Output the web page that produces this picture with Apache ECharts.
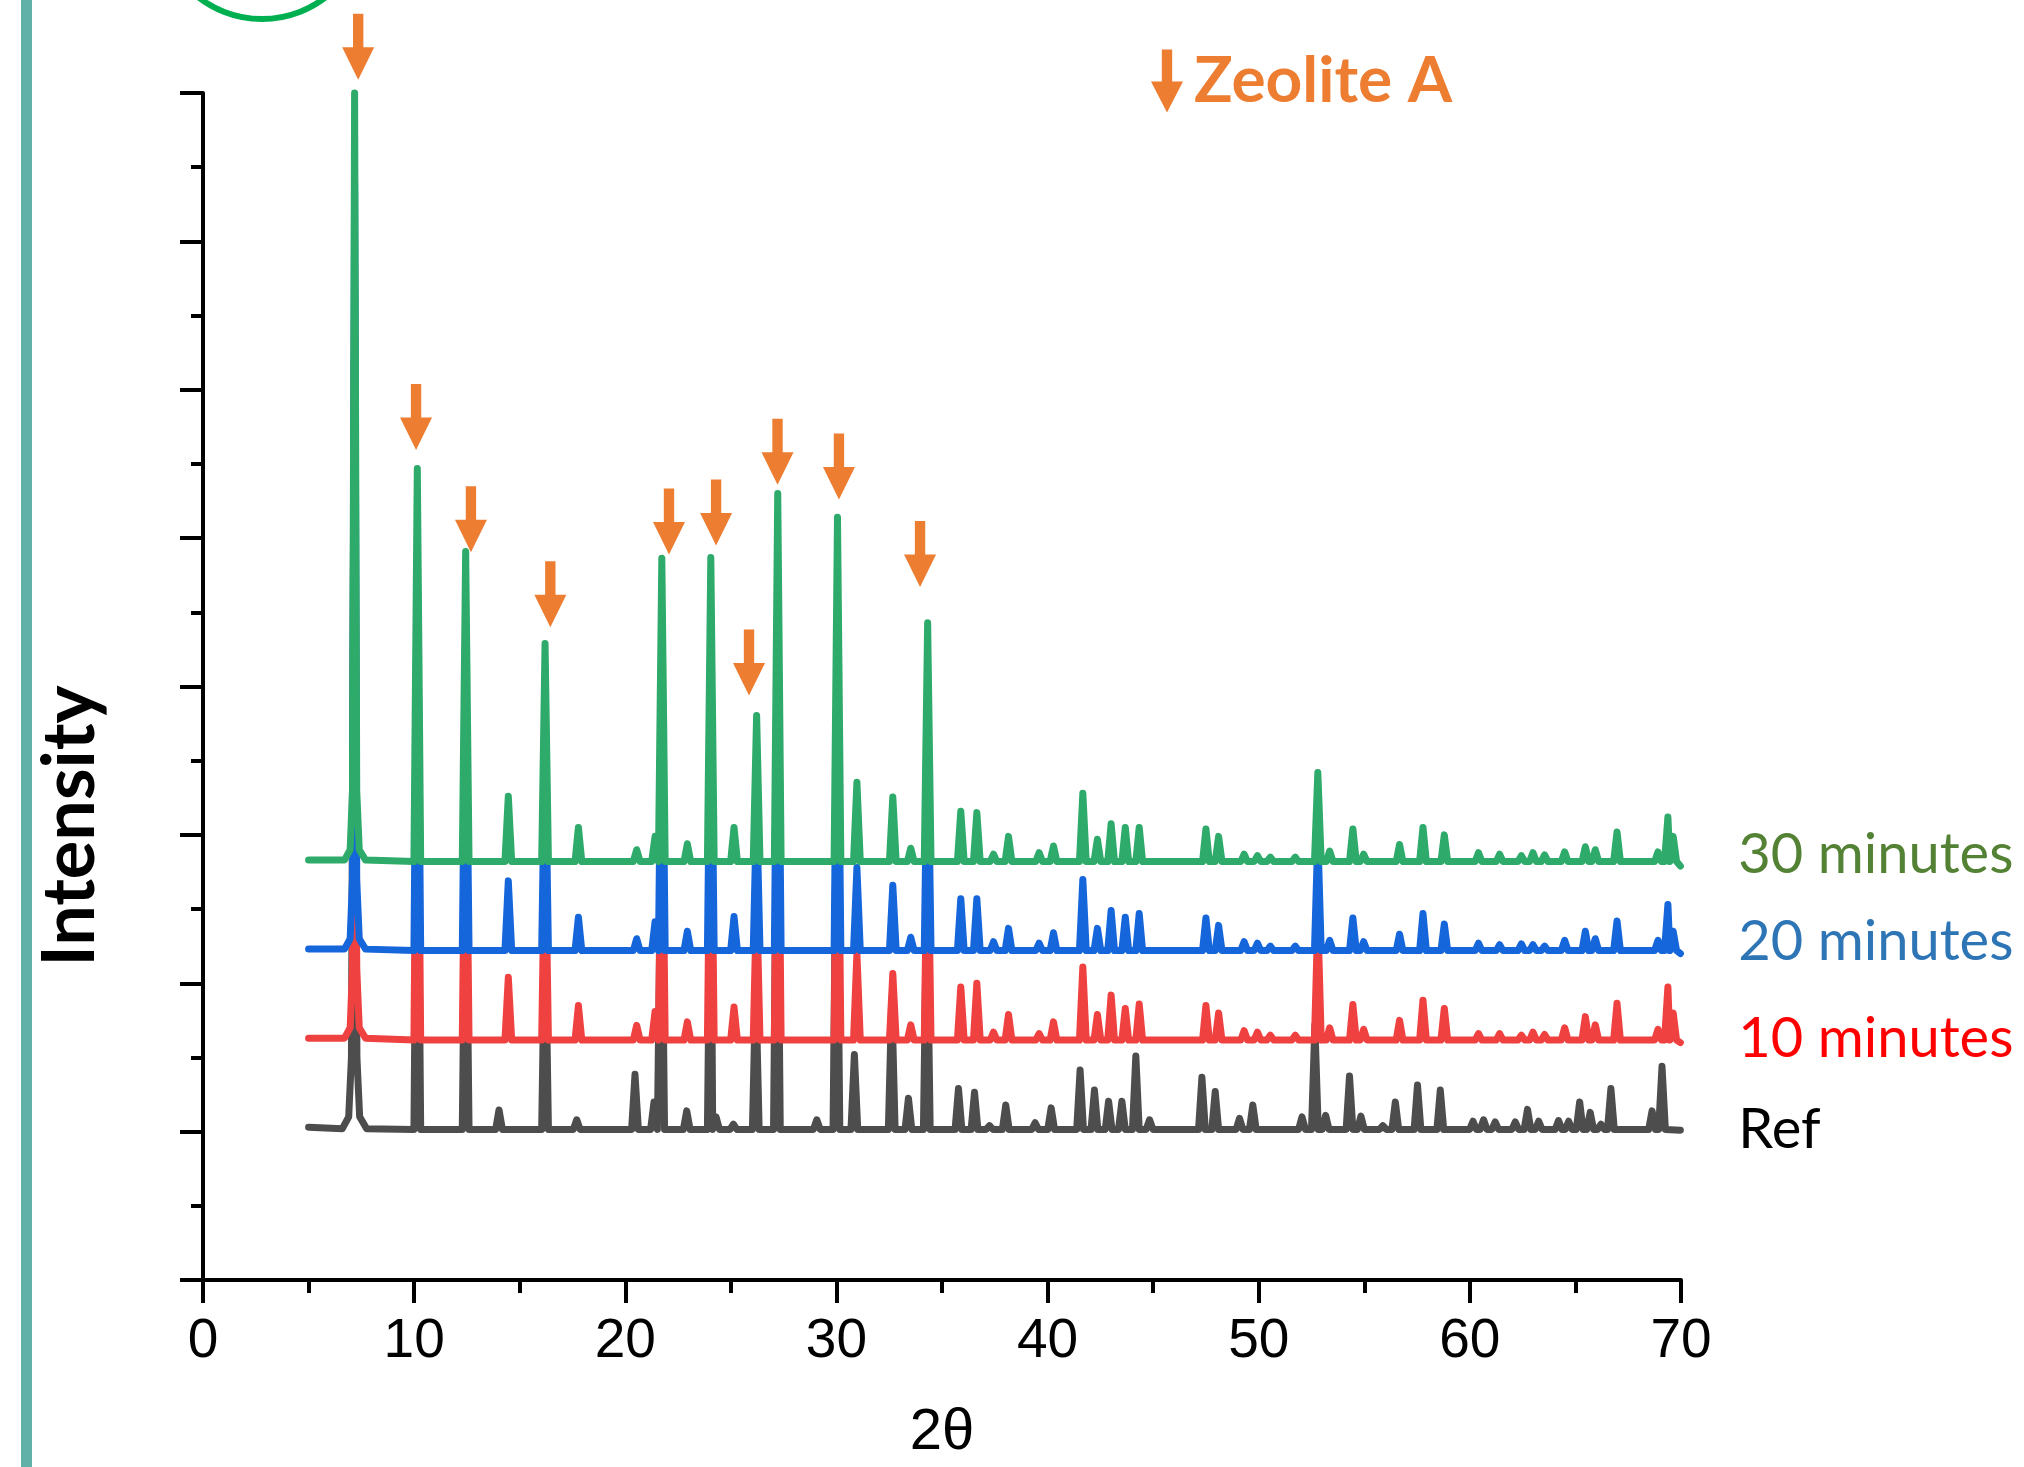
<!DOCTYPE html>
<html><head><meta charset="utf-8">
<script src="https://cdn.jsdelivr.net/npm/echarts@6/dist/echarts.min.js"></script>
<style>html,body{margin:0;padding:0;background:#fff}#c{width:2024px;height:1467px}</style>
</head><body><div id="c"></div>
<script>
// ---- tick labels ----
const xTicks = [0, 10, 20, 30, 40, 50, 60, 70];
const seriesNames = ['Ref', '10 minutes', '20 minutes', '30 minutes'];

// ---- baselines (intensity, arbitrary units) ----
const baseRef = 1.015, base10 = 1.617, base20 = 2.22, base30 = 2.82;

// ---- main (7.2°) peak, explicit points ----
const main30 = [[6.7,2.83],[6.97,2.9],[7.08,3.3],[7.18,8.0],[7.28,3.3],[7.4,2.9],[7.7,2.83]];
const main20 = [[6.7,2.23],[6.97,2.3],[7.08,2.7],[7.18,7.4],[7.28,2.7],[7.4,2.3],[7.7,2.23]];
const main10 = [[6.7,1.63],[6.97,1.7],[7.08,2.1],[7.18,6.8],[7.28,2.1],[7.4,1.7],[7.7,1.63]];
const mainRef = [[6.6,1.02],[6.9,1.1],[7.03,1.5],[7.16,6.2],[7.29,1.5],[7.42,1.1],[7.75,1.02]];

// ---- peaks [2θ, intensity] ----
const peaks30 = [[10.15,5.47],[12.44,4.91],[14.46,3.26],[16.2,4.29],[17.78,3.05],[20.54,2.90],[21.41,2.99],[21.73,4.865],[22.94,2.94],[24.05,4.87],[25.15,3.05],[26.22,3.805],[27.22,5.30],[30.05,5.14],[30.97,3.355],[32.67,3.255],[33.52,2.91],[34.32,4.43],[35.89,3.16],[36.65,3.15],[37.44,2.87],[38.15,2.99],[39.6,2.88],[40.28,2.925],[41.67,3.28],[42.36,2.97],[43.01,3.075],[43.68,3.05],[44.34,3.05],[47.5,3.04],[48.1,2.99],[49.31,2.87],[49.94,2.86],[50.55,2.85],[51.73,2.85],[52.8,3.42],[53.36,2.89],[54.46,3.04],[54.97,2.87],[56.67,2.935],[57.78,3.05],[58.79,3.0],[60.41,2.88],[61.41,2.87],[62.44,2.86],[62.99,2.88],[63.54,2.865],[64.49,2.885],[65.47,2.92],[65.94,2.90],[66.97,3.02],[68.91,2.885],[69.38,3.12],[69.63,2.99]];
const peaks20 = [[10.15,4.87],[12.44,4.31],[14.46,2.69],[16.2,3.69],[17.78,2.445],[20.54,2.30],[21.41,2.415],[21.73,4.27],[22.94,2.35],[24.05,4.27],[25.15,2.45],[26.22,3.2],[27.22,4.7],[30.05,4.54],[30.97,2.78],[32.67,2.66],[33.52,2.31],[34.32,3.83],[35.89,2.57],[36.65,2.57],[37.44,2.28],[38.15,2.37],[39.6,2.27],[40.28,2.34],[41.67,2.70],[42.36,2.37],[43.01,2.49],[43.68,2.445],[44.34,2.47],[47.5,2.44],[48.1,2.39],[49.31,2.28],[49.94,2.27],[50.55,2.25],[51.73,2.25],[52.8,3.0],[53.36,2.29],[54.46,2.44],[54.97,2.28],[56.67,2.33],[57.78,2.47],[58.79,2.40],[60.41,2.27],[61.41,2.26],[62.44,2.265],[62.99,2.26],[63.54,2.25],[64.49,2.29],[65.47,2.35],[65.94,2.30],[66.97,2.42],[68.91,2.29],[69.38,2.53],[69.63,2.35]];
const peaks10 = [[10.15,4.27],[12.44,3.71],[14.46,2.04],[16.2,3.09],[17.78,1.85],[20.54,1.716],[21.41,1.81],[21.73,3.67],[22.94,1.74],[24.05,3.67],[25.15,1.84],[26.22,2.6],[27.22,4.1],[30.05,3.94],[30.97,2.2],[32.67,2.065],[33.52,1.72],[34.32,3.23],[35.89,1.975],[36.65,2.0],[37.44,1.67],[38.15,1.79],[39.6,1.66],[40.28,1.74],[41.67,2.11],[42.36,1.79],[43.01,1.92],[43.68,1.83],[44.34,1.86],[47.5,1.85],[48.1,1.80],[49.31,1.68],[49.94,1.67],[50.55,1.65],[51.73,1.65],[52.8,2.45],[53.36,1.70],[54.46,1.857],[54.97,1.69],[56.67,1.75],[57.78,1.886],[58.79,1.83],[60.41,1.66],[61.41,1.66],[62.44,1.65],[62.99,1.67],[63.54,1.655],[64.49,1.70],[65.47,1.775],[65.94,1.72],[66.97,1.865],[68.91,1.69],[69.38,1.975],[69.63,1.80]];
const peaksRef = [[10.15,3.67],[12.44,3.11],[14.02,1.146],[16.2,2.49],[17.70,1.08],[20.46,1.386],[21.36,1.2],[21.70,3.07],[22.91,1.14],[24.05,3.07],[24.3,1.1],[25.12,1.05],[26.18,2.0],[27.18,3.5],[29.07,1.08],[30.0,3.34],[30.85,1.52],[32.62,1.9],[33.41,1.225],[34.28,2.63],[35.78,1.29],[36.54,1.265],[37.25,1.04],[38.02,1.18],[39.41,1.06],[40.17,1.16],[41.54,1.415],[42.22,1.28],[42.89,1.205],[43.52,1.205],[44.18,1.51],[44.83,1.08],[47.31,1.366],[47.94,1.27],[49.09,1.09],[49.72,1.18],[52.05,1.10],[52.66,1.72],[53.17,1.11],[54.3,1.375],[54.84,1.105],[55.88,1.04],[56.47,1.2],[57.52,1.314],[58.6,1.28],[60.15,1.07],[60.65,1.08],[61.2,1.065],[62.15,1.065],[62.73,1.15],[63.26,1.07],[64.2,1.075],[64.68,1.07],[65.2,1.2],[65.7,1.13],[66.21,1.05],[66.68,1.29],[68.63,1.14],[69.1,1.44]];

// ---- scan ends [2θ, intensity] ----
const ends30 = [[5.0,2.83],[69.97,2.79]];
const ends20 = [[5.0,2.23],[69.97,2.20]];
const ends10 = [[5.0,1.63],[69.97,1.60]];
const endsRef = [[5.0,1.03],[69.97,1.01]];

// ---- Zeolite A markers (arrow tip position) ----
const arrowPos = [7.35, 10.09, 12.69, 16.45, 22.07, 24.3, 25.86, 27.21, 30.12, 33.96];
const arrowTip = [8.09, 5.594, 4.905, 4.40, 4.89, 4.95, 3.94, 5.36, 5.26, 4.67];

const HW = 0.16;
function pattern(base, peaks, main, ends) {
  const pts = [];
  ends.forEach(p => pts.push(p));
  main.forEach(p => pts.push(p));
  peaks.forEach(([p, h]) => { pts.push([p - HW, base], [p, h], [p + HW, base]); });
  pts.sort((a, b) => a[0] - b[0]);
  return pts;
}

const colors = ['#4D4D4D', '#F04141', '#1565DB', '#2EAA6A'];
const labelColors = ['#000000', '#FF0000', '#2E75B6', '#548235'];
const labelOffsets = [[0, 0], [0, -4], [0, -12], [0, -11]];
const datasets = [
  pattern(baseRef, peaksRef, mainRef, endsRef),
  pattern(base10, peaks10, main10, ends10),
  pattern(base20, peaks20, main20, ends20),
  pattern(base30, peaks30, main30, ends30)
];

const arrowPath = 'path://M11.5,0 L22.5,0 L22.5,34 L34,34 L17,67 L0,34 L11.5,34 Z';

const chart = echarts.init(document.getElementById('c'), null, {renderer: 'canvas'});
const lineSeries = datasets.map((d, i) => ({
  name: seriesNames[i],
  type: 'line',
  data: d,
  symbol: 'none',
  clip: false,
  z: 2 + i,
  lineStyle: {color: colors[i], width: 7, cap: 'round', join: 'round'},
  itemStyle: {color: colors[i]},
  endLabel: {
    show: true, formatter: '{a}', color: labelColors[i], fontSize: 56,
    fontFamily: 'Lato', distance: 58, offset: labelOffsets[i]
  },
  emphasis: {disabled: true}
}));

chart.setOption({
  animation: false,
  backgroundColor: '#ffffff',
  grid: {left: 203, right: 343, top: 93, bottom: 185, containLabel: false},
  legend: {
    data: ['Zeolite A'], left: 1146, top: 44, selectedMode: false,
    itemWidth: 32, itemHeight: 64, icon: arrowPath,
    textStyle: {color: '#ED7D31', fontWeight: 'bold', fontSize: 64, fontFamily: 'Lato', padding: [0, 0, 0, 6]}
  },
  xAxis: {
    type: 'value', min: 0, max: 70, interval: 10,
    name: '2θ', nameLocation: 'middle', nameGap: 124,
    nameTextStyle: {color: '#000', fontSize: 58, fontFamily: 'Liberation Sans'},
    axisLine: {show: true, onZero: false, lineStyle: {color: '#000', width: 4}},
    axisTick: {show: true, length: 23, lineStyle: {color: '#000', width: 4}},
    minorTick: {show: true, splitNumber: 2, length: 13, lineStyle: {color: '#000', width: 4}},
    axisLabel: {
      color: '#000', fontSize: 55, margin: 34,
      fontFamily: "'Liberation Sans Narrow', 'Liberation Sans'",
      formatter: v => (xTicks.indexOf(v) >= 0 ? String(v) : '')
    },
    splitLine: {show: false}
  },
  yAxis: {
    type: 'value', min: 0, max: 8, interval: 1,
    axisLine: {show: true, onZero: false, lineStyle: {color: '#000', width: 4}},
    axisTick: {show: true, length: 23, lineStyle: {color: '#000', width: 4}},
    minorTick: {show: true, splitNumber: 2, length: 12, lineStyle: {color: '#000', width: 4}},
    axisLabel: {show: false},
    splitLine: {show: false}
  },
  graphic: [
    {type: 'rect', shape: {x: 21, y: 0, width: 11, height: 1467}, style: {fill: '#62B1A8'}, silent: true},
    {type: 'circle', shape: {cx: 262, cy: -85, r: 104}, style: {fill: 'none', stroke: '#00B050', lineWidth: 6}, silent: true},
    {type: 'text', x: 71, y: 826, rotation: Math.PI / 2, silent: true,
      style: {text: 'Intensity', fill: '#000', fontSize: 72, fontWeight: 'bold', fontFamily: 'Lato', align: 'center', verticalAlign: 'middle'}}
  ],
  series: lineSeries.concat([{
    name: 'Zeolite A',
    type: 'scatter',
    data: arrowPos.map((x, i) => [x, arrowTip[i]]),
    symbol: arrowPath,
    symbolSize: [32, 66],
    symbolOffset: [0, '-50%'],
    clip: false,
    z: 10,
    itemStyle: {color: '#ED7D31', opacity: 1},
    emphasis: {disabled: true}
  }])
});
</script>
</body></html>
